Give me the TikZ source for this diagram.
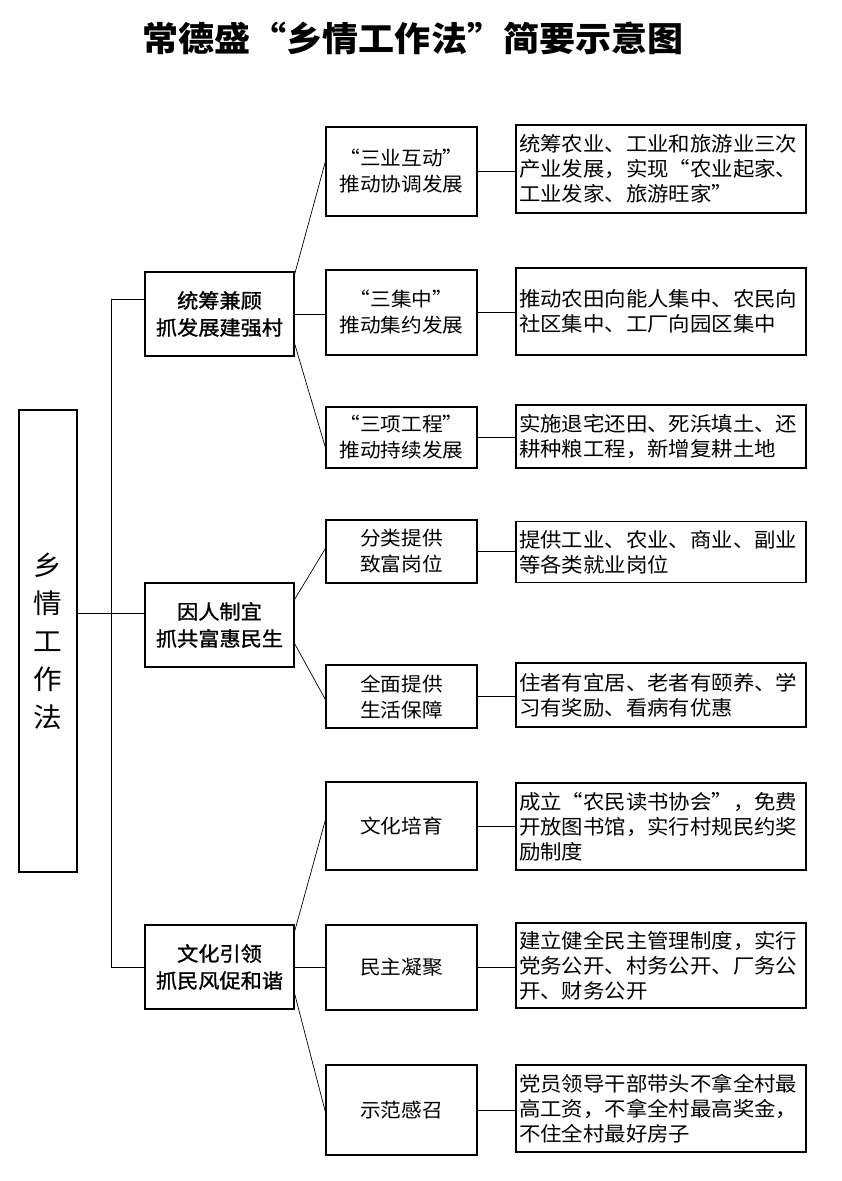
\documentclass[tikz,border=0pt]{standalone}
\usepackage{fontspec}
\usepackage{tikz}
\newfontfamily\cjk[FakeStretch=1.06]{Noto Sans CJK SC}
\newfontfamily\cjkmid[FakeStretch=1.06, FakeBold=1.2]{Noto Sans CJK SC}

\begin{document}
\begin{tikzpicture}[x=1pt, y=-1pt,
    box/.style={draw, line width=1.2pt, rectangle, inner sep=0pt, align=center},
    rootbox/.style={box, minimum width=58pt, minimum height=462pt, font=\cjk\fontsize{27}{38}\selectfont},
    lvone/.style={box, minimum width=149pt, minimum height=84pt, font=\cjkmid\fontsize{20}{27}\selectfont},
    lvtwo/.style={box, minimum width=151pt, font=\cjk\fontsize{19.5}{26}\selectfont},
    lvthree/.style={draw, line width=1.2pt, rectangle, inner xsep=3pt, inner ysep=0pt, text width=284pt, align=left, font=\cjk\fontsize{20.2}{25}\selectfont},
    link/.style={line width=0.7pt},
    trunk/.style={line width=1pt}]
    \useasboundingbox (0, 0) rectangle (842, 1181);

    \node[font=\cjk\bfseries\fontsize{34}{38}\selectfont] at (413, 38) (title) {常德盛“乡情工作法”简要示意图};

    \node[rootbox] at (48, 641) (root) {乡\\情\\工\\作\\法};

    \node[lvone] at (219.5, 314) (L1N1) {统筹兼顾\\抓发展建强村};
    \node[lvone] at (219.5, 625) (L1N2) {因人制宜\\抓共富惠民生};
    \node[lvone] at (219.5, 967) (L1N3) {文化引领\\抓民风促和谐};

    \node[lvtwo, minimum height=89pt] at (401.5, 171.5) (L2N1) {“三业互动”\\推动协调发展};
    \node[lvtwo, minimum height=85pt] at (401.5, 312.5) (L2N2) {“三集中”\\推动集约发展};
    \node[lvtwo, minimum height=61pt] at (401.5, 437.5) (L2N3) {“三项工程”\\推动持续发展};
    \node[lvtwo, minimum height=63pt] at (401.5, 551.5) (L2N4) {分类提供\\致富岗位};
    \node[lvtwo, minimum height=63pt] at (401.5, 696.5) (L2N5) {全面提供\\生活保障};
    \node[lvtwo, minimum height=88pt] at (401.5, 826) (L2N6) {文化培育};
    \node[lvtwo, minimum height=85pt] at (401.5, 967.5) (L2N7) {民主凝聚};
    \node[lvtwo, minimum height=90pt] at (401.5, 1110) (L2N8) {示范感召};

    \node[lvthree, minimum height=88pt] at (661, 169) (L3N1) {统筹农业、工业和旅游业三次\\产业发展，实现“农业起家、\\工业发家、旅游旺家”};
    \node[lvthree, minimum height=87pt] at (661, 311.5) (L3N2) {推动农田向能人集中、农民向\\社区集中、工厂向园区集中};
    \node[lvthree, minimum height=63pt] at (661, 436.5) (L3N3) {实施退宅还田、死浜填土、还\\耕种粮工程，新增复耕土地};
    \node[lvthree, minimum height=61pt] at (661, 552) (L3N4) {提供工业、农业、商业、副业\\等各类就业岗位};
    \node[lvthree, minimum height=64pt] at (661, 695) (L3N5) {住者有宜居、老者有颐养、学\\习有奖励、看病有优惠};
    \node[lvthree, minimum height=87pt] at (661, 826.5) (L3N6) {成立“农民读书协会”，免费\\开放图书馆，实行村规民约奖\\励制度};
    \node[lvthree, minimum height=85pt] at (661, 965.5) (L3N7) {建立健全民主管理制度，实行\\党务公开、村务公开、厂务公\\开、财务公开};
    \node[lvthree, minimum height=87pt] at (661, 1108.5) (L3N8) {党员领导干部带头不拿全村最\\高工资，不拿全村最高奖金，\\不住全村最好房子};

    % trunk from the root to the three groups
    \coordinate (T1) at (111, 299);
    \coordinate (T2) at (111, 613);
    \coordinate (T3) at (111, 967);
    \draw[trunk] (T1 -| L1N1.west) -- (T1) -- (T3) -- (L1N3.west);
    \draw[trunk] (T2 -| root.east) -- (T2 -| L1N2.west);

    % groups to their measures
    \draw[link] ([yshift=-3pt]L1N1.north east) -- ([yshift=10pt]L2N1.west);
    \draw[link] (L1N1.east) -- (L1N1.east -| L2N2.west);
    \draw[link] ([yshift=13pt]L1N1.south east) -- ([yshift=-10pt]L2N3.west);
    \draw[link] ([yshift=-17pt]L1N2.north east) -- ([yshift=3pt]L2N4.west);
    \draw[link] ([yshift=24pt]L1N2.south east) -- ([yshift=-3pt]L2N5.west);
    \draw[link] ([yshift=-7pt]L1N3.north east) -- ([yshift=6pt]L2N6.west);
    \draw[link] (L1N3.east) -- (L1N3.east -| L2N7.west);
    \draw[link] ([yshift=16pt]L1N3.south east) -- ([yshift=-2pt]L2N8.west);

    % measures to their details
    \foreach \i in {1,...,8}
        \draw[link] (L2N\i.east) -- (L2N\i.east -| L3N\i.west);
\end{tikzpicture}
\end{document}
